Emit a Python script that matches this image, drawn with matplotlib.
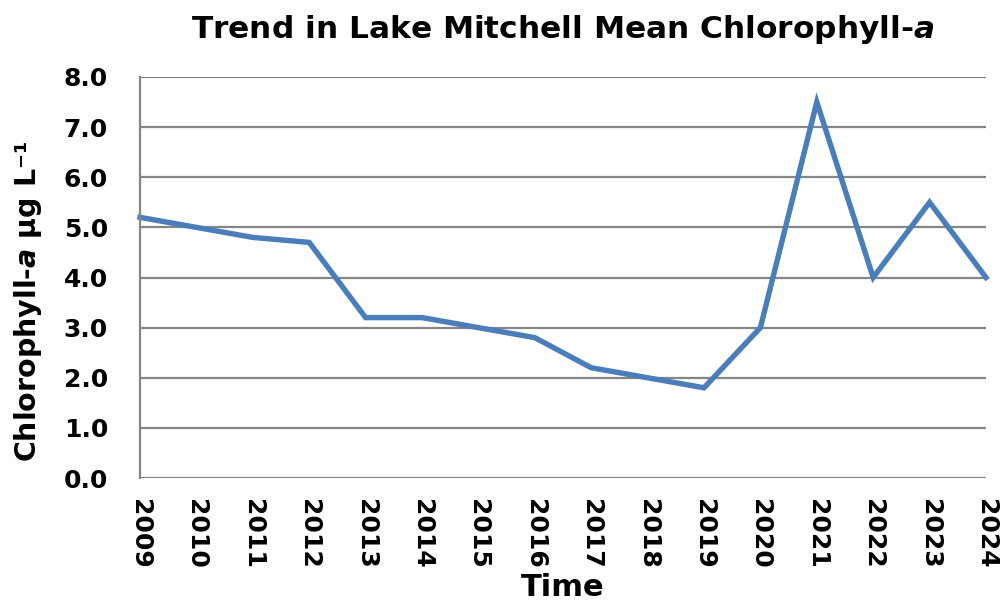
import matplotlib.pyplot as plt

# data
years = ["2009", "2010", "2011", "2012", "2013", "2014", "2015", "2016",
         "2017", "2018", "2019", "2020", "2021", "2022", "2023", "2024"]
chl_a = [5.2, 5.0, 4.8, 4.7, 3.2, 3.2, 3.0, 2.8,
         2.2, 2.0, 1.8, 3.0, 7.5, 4.0, 5.5, 4.0]
y_ticks = [0, 1, 2, 3, 4, 5, 6, 7, 8]

plt.rcParams['font.family'] = ['DejaVu Sans']
plt.rcParams['mathtext.fontset'] = 'custom'
plt.rcParams['mathtext.rm'] = 'DejaVu Sans:bold'
plt.rcParams['mathtext.bf'] = 'DejaVu Sans:bold'
plt.rcParams['mathtext.it'] = 'DejaVu Sans:italic:bold'

fig = plt.figure(figsize=(10.04, 6.06), dpi=100)
ax = fig.add_axes([140 / 1004, 1 - 478 / 606, 846 / 1004, 401 / 606])

x = list(range(len(years)))
ax.plot(x, chl_a, color='#4a7ebb', linewidth=3.9, solid_joinstyle='miter', clip_on=False)

ax.set_xlim(0, len(years) - 1)
ax.set_ylim(0, 8)
ax.set_yticks(y_ticks)
ax.set_yticklabels([f"{v:.1f}" for v in y_ticks], fontsize=18, fontweight='bold')
ax.set_xticks(x)
ax.set_xticklabels(years, rotation=-90, fontsize=18, fontweight='bold')
ax.tick_params(axis='y', length=0, pad=23)
ax.tick_params(axis='x', length=0, pad=15)

ax.grid(axis='y', color='#868686', linewidth=1.6)
ax.set_axisbelow(True)
for side in ['top', 'right', 'bottom']:
    ax.spines[side].set_visible(False)
ax.spines['left'].set_color('#868686')
ax.spines['left'].set_linewidth(1.6)

ax.set_title("Trend in Lake Mitchell Mean Chlorophyll-$a$", fontsize=22.5,
             fontweight='bold', pad=28)
ax.set_ylabel("Chlorophyll-$a$ µg L⁻¹", fontsize=20.5, fontweight='bold')
ax.yaxis.set_label_coords(-0.132, 0.441)
ax.yaxis.label.set_va('center')
ax.yaxis.label.set_rotation_mode('default')
ax.set_xlabel("Time", fontsize=22, fontweight='bold')
ax.xaxis.set_label_coords(0.5, -0.274)
ax.xaxis.label.set_va('center')

fig.savefig("out.png", dpi=100)
